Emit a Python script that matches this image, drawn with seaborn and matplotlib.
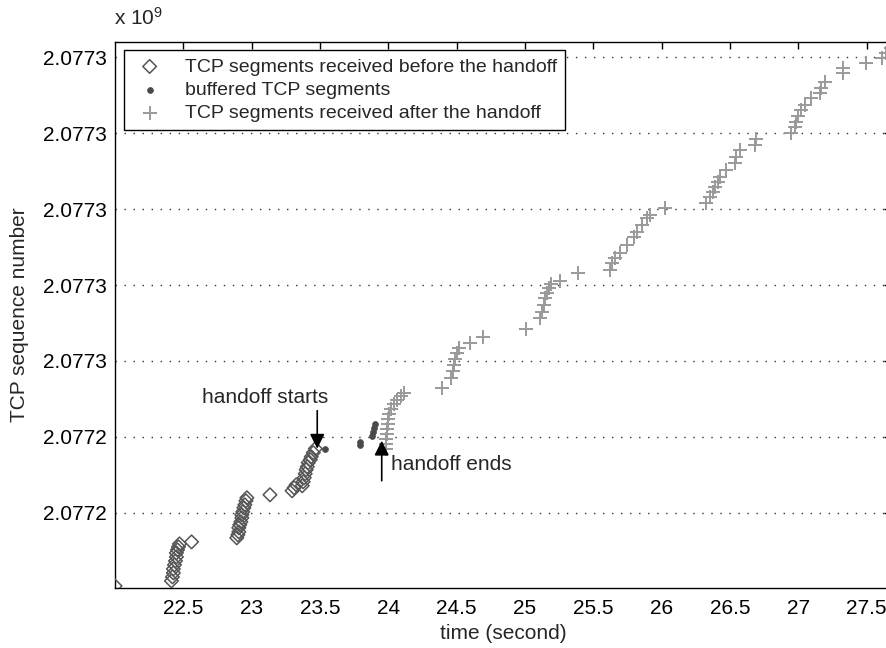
import matplotlib
matplotlib.use("Agg")
import matplotlib.pyplot as plt
import seaborn as sns
import pandas as pd

# ---------------- data ----------------
before_t = [21.999, 22.412, 22.419, 22.426, 22.426, 22.434, 22.441, 22.448, 22.448,
            22.456, 22.463, 22.471, 22.559,
            22.890, 22.898, 22.905, 22.905, 22.912, 22.920, 22.927, 22.927, 22.934,
            22.942, 22.949, 22.957, 22.964, 23.133,
            23.295, 23.310, 23.325,
            23.369, 23.376, 23.384, 23.391, 23.398, 23.406, 23.413, 23.428, 23.435,
            23.450, 23.465]
before_seq = [2077220369, 2077221029, 2077221556, 2077222084, 2077222612, 2077223140,
              2077223667, 2077224195, 2077224723, 2077225119, 2077225514, 2077225910,
              2077226174,
              2077226702, 2077227098, 2077227493, 2077228021, 2077228417, 2077228813,
              2077229340, 2077229736, 2077230132, 2077230660, 2077231055, 2077231583,
              2077231979, 2077232375,
              2077232902, 2077233298, 2077233694,
              2077233562, 2077234090, 2077234618, 2077235145, 2077235673, 2077236069,
              2077236597, 2077236992, 2077237388, 2077237916, 2077238444]

buffered_t = [23.538, 23.789, 23.789, 23.877, 23.884, 23.892, 23.899]
buffered_seq = [2077238444, 2077239367, 2077238971, 2077240159, 2077240686,
                2077241214, 2077241742]

after_t = [23.980, 23.980, 23.980, 23.987, 23.987, 23.995, 23.995, 24.002, 24.017,
           24.039, 24.061, 24.091, 24.113,
           24.392, 24.459, 24.473, 24.481, 24.488, 24.503, 24.518, 24.599, 24.694,
           25.004, 25.107, 25.121, 25.136, 25.144, 25.158, 25.173, 25.188, 25.254,
           25.387,
           25.622, 25.637, 25.659, 25.696, 25.747, 25.799, 25.821, 25.858, 25.895,
           25.917, 26.027,
           26.322, 26.351, 26.373, 26.388, 26.410, 26.425, 26.469, 26.535, 26.543,
           26.572, 26.683, 26.690,
           26.948, 26.977, 26.985, 26.999, 27.021, 27.051, 27.095, 27.161, 27.169,
           27.198, 27.331, 27.331, 27.493, 27.610, 27.640, 27.677]
after_seq = [2077238444, 2077239103, 2077239763, 2077240422, 2077241082, 2077241742,
             2077242401, 2077243061, 2077243721, 2077244380, 2077244908, 2077245436,
             2077245832,
             2077246491, 2077247811, 2077248734, 2077249526, 2077250317, 2077251109,
             2077251768, 2077252428, 2077253220,
             2077254143, 2077255594, 2077256386, 2077257310, 2077258233, 2077258893,
             2077259552, 2077260080, 2077260476, 2077261531,
             2077261927, 2077262851, 2077263510, 2077264170, 2077265225, 2077266281,
             2077266940, 2077267864, 2077268787, 2077269183, 2077270107,
             2077270766, 2077271558, 2077272218, 2077272877, 2077273537, 2077274197,
             2077275120, 2077276044, 2077276835, 2077277759, 2077278418, 2077279210,
             2077280001, 2077280793, 2077281453, 2077282244, 2077283036, 2077283696,
             2077284619, 2077285279, 2077285938, 2077286730, 2077287917, 2077288577,
             2077289237, 2077289896, 2077290556, 2077291216]

series_labels = ["TCP segments received before the handoff",
                 "buffered TCP segments",
                 "TCP segments received after the handoff"]

x_ticks = [22.5, 23, 23.5, 24, 24.5, 25, 25.5, 26, 26.5, 27, 27.5]
x_ticklabels = ["22.5", "23", "23.5", "24", "24.5", "25", "25.5", "26", "26.5", "27", "27.5"]
y_ticks = [2077230000, 2077240000, 2077250000, 2077260000, 2077270000, 2077280000, 2077290000]
y_ticklabels = ["2.0772", "2.0772", "2.0773", "2.0773", "2.0773", "2.0773", "2.0773"]

# ---------------- style ----------------
sns.set_theme(style="white")
plt.rcParams["font.family"] = ["Liberation Sans", "DejaVu Sans"]
plt.rcParams["mathtext.default"] = "regular"

fig = plt.figure(figsize=(8.87, 6.48), dpi=100)
ax = fig.add_axes([0.1297, 0.0926, 0.875, 0.8426])

df_b = pd.DataFrame({"t": before_t, "seq": before_seq})
df_f = pd.DataFrame({"t": buffered_t, "seq": buffered_seq})
df_a = pd.DataFrame({"t": after_t, "seq": after_seq})

sns.scatterplot(data=df_b, x="t", y="seq", ax=ax, marker="D", s=48,
                facecolor="none", edgecolor="#555555", linewidth=1.1,
                label=series_labels[0], zorder=3)
sns.scatterplot(data=df_f, x="t", y="seq", ax=ax, marker="o", s=18,
                color="#4a4a4a", edgecolor="#4a4a4a", linewidth=0.5,
                label=series_labels[1], zorder=3)
sns.scatterplot(data=df_a, x="t", y="seq", ax=ax, marker="+", s=110,
                color="#9a9a9a", linewidth=1.4,
                label=series_labels[2], zorder=3)

ax.set_xlim(21.999, 27.68)
ax.set_ylim(2077220100, 2077292007)
ax.set_xticks(x_ticks)
ax.set_xticklabels(x_ticklabels)
ax.set_yticks(y_ticks)
ax.set_yticklabels(y_ticklabels)

ax.tick_params(axis="both", direction="in", length=5, width=1, labelsize=15,
               top=True, right=True, colors="black")
ax.tick_params(axis="x", pad=8)
ax.tick_params(axis="y", pad=6)
for sp in ax.spines.values():
    sp.set_color("black")
    sp.set_linewidth(1.0)

ax.yaxis.grid(True, linestyle=(0, (1, 5.5)), color="#333333", linewidth=1.0)
ax.xaxis.grid(False)

ax.set_xlabel("time (second)", fontsize=15, labelpad=4)
ax.set_ylabel("TCP sequence number", fontsize=15, labelpad=10)

fig.text(0.128, 0.955, r"x 10$^{9}$", fontsize=15, ha="left", va="bottom")

# annotations
ax.annotate("", xy=(23.479, 2077238444), xytext=(23.479, 2077243457),
            arrowprops=dict(arrowstyle="-|>", color="black", lw=1.2,
                            mutation_scale=22, shrinkA=0, shrinkB=0))
ax.text(23.10, 2077244000, "handoff starts", fontsize=15, ha="center", va="bottom")
ax.annotate("", xy=(23.951, 2077239499), xytext=(23.951, 2077234222),
            arrowprops=dict(arrowstyle="-|>", color="black", lw=1.2,
                            mutation_scale=22, shrinkA=0, shrinkB=0))
ax.text(24.02, 2077236300, "handoff ends", fontsize=15, ha="left", va="center")

leg = ax.legend(loc="upper left", bbox_to_anchor=(0.012, 0.985), borderaxespad=0,
                fontsize=14, frameon=True, fancybox=False, framealpha=1,
                edgecolor="black", borderpad=0.4, handletextpad=0.9,
                labelspacing=0.3, handlelength=1.8, markerscale=1.0)
leg.get_frame().set_linewidth(1.0)

fig.savefig("out.png", dpi=100)
